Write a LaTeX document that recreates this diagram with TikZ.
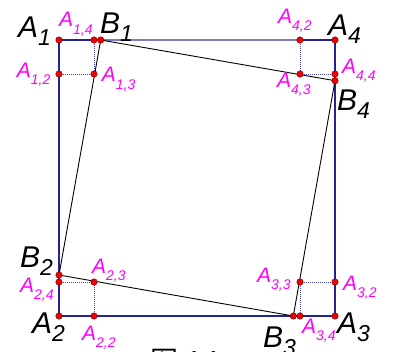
\documentclass[tikz,border=0pt]{standalone}
\usepackage{fontspec}
\setmainfont{Liberation Sans}
\newfontfamily\cjkfont{Noto Sans CJK SC}
\definecolor{navy}{RGB}{35,35,150}
\definecolor{lightnavy}{RGB}{125,125,190}
\definecolor{dotnavy}{RGB}{70,70,170}
\definecolor{mag}{RGB}{255,0,255}
\definecolor{ptred}{RGB}{240,0,0}
\definecolor{ptedge}{RGB}{90,0,0}
\newcommand\blab[2]{\fontsize{30}{30}\selectfont\itshape #1\raisebox{-8.5pt}{\fontsize{23}{23}\selectfont #2}}
\newcommand\mlab[2]{\fontsize{21}{21}\selectfont\itshape #1\raisebox{-7.5pt}{\fontsize{14}{14}\selectfont #2}}
\tikzset{
  outer/.style={draw=navy, line width=1.7pt},
  outerlight/.style={draw=lightnavy, line width=2pt},
  inner/.style={draw=black, line width=0.9pt},
  dots/.style={draw=dotnavy, line width=0.9pt, dash pattern=on 1pt off 1pt},
  pt/.style={circle, fill=ptred, draw=ptedge, line width=0.4pt, inner sep=0pt, minimum size=6.5pt},
  blk/.style={anchor=base west, inner sep=0pt, text=black},
  mg/.style={anchor=base west, inner sep=0pt, text=mag}
}
\begin{document}
\begin{tikzpicture}[x=1pt,y=-1pt]
\useasboundingbox (0,0) rectangle (395,351);
\clip (0,0) rectangle (395,351);
% coordinates
\coordinate (A1) at (59,40);
\coordinate (A14) at (94,40);
\coordinate (B1) at (100.7,40);
\coordinate (A12) at (59,74);
\coordinate (A13) at (94,74);
\coordinate (A42) at (300,40);
\coordinate (A4) at (335,40);
\coordinate (A44) at (335,74);
\coordinate (B4) at (335,80.7);
\coordinate (A43) at (300,74);
\coordinate (B2) at (59,275);
\coordinate (A24) at (59,282);
\coordinate (A23) at (94,282);
\coordinate (A2) at (59,316);
\coordinate (A22) at (94,316);
\coordinate (A33) at (300,282);
\coordinate (A32) at (335,282);
\coordinate (B3) at (293.3,316);
\coordinate (A34) at (300,316);
\coordinate (A3) at (335,316);
% outer square
\draw[outerlight] (B1) -- (A42);
\draw[outer] (A1) -- (B1);
\draw[outer] (A42) -- (A4) -- (A3) -- (A2) -- (A1);
% dotted small squares
\draw[dots] (A14) -- (A13) -- (A12);
\draw[dots] (A42) -- (A43) -- (A44);
\draw[dots] (A24) -- (A23) -- (A22);
\draw[dots] (A33) -- (A32);
\draw[dots] (A33) -- (A34);
% inner square
\draw[inner] (B1) -- (B4) -- (B3) -- (B2) -- cycle;
% points
\foreach \p in {A1,A14,B1,A12,A13,A42,A4,A44,B4,A43,B2,A24,A23,A2,A22,A33,A32,B3,A34,A3}
  \node[pt] (p\p) at (\p) {};
% black labels
\node[blk] (lA1) at (18,37) {\blab{A}{1}};
\node[blk] (lB1) at (100,33) {\blab{B}{1}};
\node[blk] (lA4) at (328,35) {\blab{A}{4}};
\node[blk] (lB4) at (337,110) {\blab{B}{4}};
\node[blk] (lB2) at (20,267) {\blab{B}{2}};
\node[blk] (lA2) at (32,333) {\blab{A}{2}};
\node[blk] (lB3) at (263,347) {\blab{B}{3}};
\node[blk] (lA3) at (337,333) {\blab{A}{3}};
% magenta labels
\node[mg] (lA14) at (59,26.7) {\mlab{A}{1,4}};
\node[mg] (lA12) at (16.7,77) {\mlab{A}{1,2}};
\node[mg] (lA13) at (101.7,81.7) {\mlab{A}{1,3}};
\node[mg] (lA42) at (278,23) {\mlab{A}{4,2}};
\node[mg] (lA44) at (342,73) {\mlab{A}{4,4}};
\node[mg] (lA43) at (277,87) {\mlab{A}{4,3}};
\node[mg] (lA23) at (92,273) {\mlab{A}{2,3}};
\node[mg] (lA24) at (20,292) {\mlab{A}{2,4}};
\node[mg] (lA22) at (82,340) {\mlab{A}{2,2}};
\node[mg] (lA33) at (257,282) {\mlab{A}{3,3}};
\node[mg] (lA32) at (343,290) {\mlab{A}{3,2}};
\node[mg] (lA34) at (302,333) {\mlab{A}{3,4}};
% cut-off caption
\node[anchor=north west, inner sep=0pt] (cap) at (150,349) {\fontsize{28}{28}\selectfont\cjkfont 图\hspace{8pt}1\hspace{2pt}4};
\end{tikzpicture}
\end{document}
